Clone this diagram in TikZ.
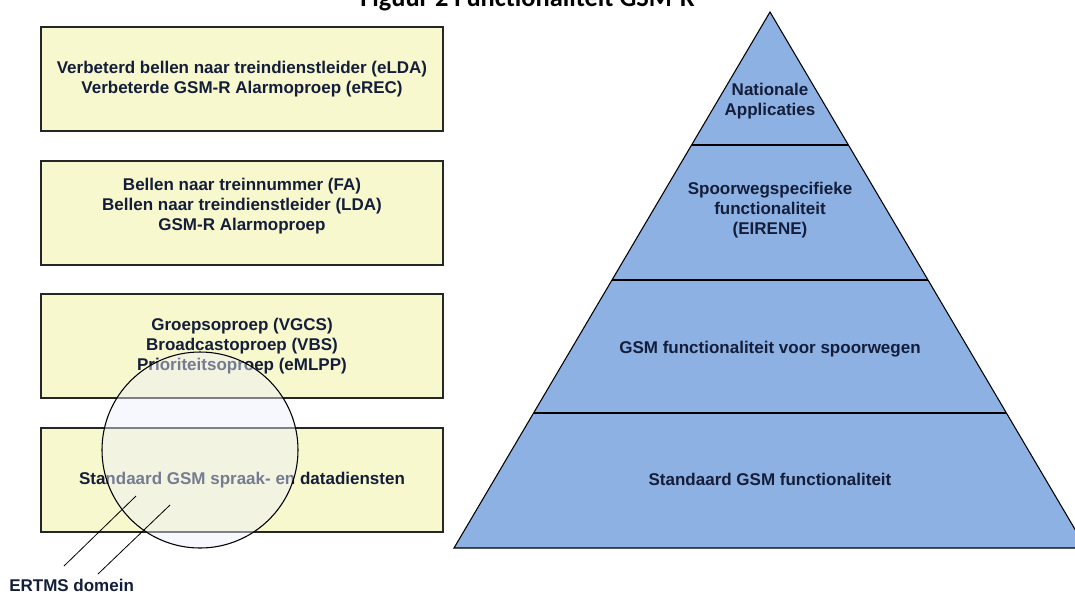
\documentclass[tikz,border=0pt]{standalone}
\usepackage{fontspec}
\setmainfont{Liberation Sans}
\newfontfamily\titlefont{Carlito}
\usetikzlibrary{calc}
\definecolor{txt}{RGB}{20,30,58}
\definecolor{boxfill}{RGB}{248,248,206}
\definecolor{pyr}{RGB}{142,177,227}
\definecolor{circ}{RGB}{236,239,250}
\begin{document}
\begin{tikzpicture}[x=0.75pt,y=-0.75pt,
  lbox/.style={draw=black!85, line width=0.8pt, fill=boxfill, minimum width=301.5pt, minimum height=78pt, inner sep=0pt},
  btxt/.style={align=center, inner sep=0pt, text=txt, font=\bfseries\fontsize{12.75}{15}\selectfont},
  edge/.style={draw=black, line width=0.8pt},
  leader/.style={draw=black, line width=0.6pt}]
\useasboundingbox (0,0) rectangle (1075,594);
\begin{scope}
\clip (0,0) rectangle (1075,594);
% title
\node[anchor=base west, inner sep=0pt, text=black, font=\titlefont\bfseries\fontsize{19.8}{22}\selectfont] (title) at (360,6) {Figuur 2 Functionaliteit GSM-R};

% left boxes
\node[lbox] (b1) at (242,79) {};
\node[lbox] (b2) at (242,213) {};
\node[lbox] (b3) at (242,346) {};
\node[lbox] (b4) at (242,480) {};
\node[btxt] (t1) at (242,79) {Verbeterd bellen naar treindienstleider (eLDA)\\Verbeterde GSM-R Alarmoproep (eREC)};
\node[btxt] (t2) at (242,206) {Bellen naar treinnummer (FA)\\Bellen naar treindienstleider (LDA)\\GSM-R Alarmoproep};
\node[btxt] (t3) at (242,346) {Groepsoproep (VGCS)\\Broadcastoproep (VBS)\\Prioriteitsoproep (eMLPP)};
\node[btxt] (t4) at (242,480) {Standaard GSM spraak- en datadiensten};

% ERTMS circle
\node[circle, minimum size=147pt, inner sep=0pt, fill=circ, fill opacity=0.45, draw=black, line width=0.8pt] (erc) at (200,450) {};
\node[btxt, anchor=base west] (ertms) at (9,591) {ERTMS domein};
\coordinate (l1a) at (136,496);
\coordinate (l1b) at (64,566);
\coordinate (l2a) at (170,505);
\coordinate (l2b) at (98,574);
\draw[leader] (l1a) -- (l1b);
\draw[leader] (l2a) -- (l2b);

% pyramid
\coordinate (apex) at (770,12);
\coordinate (bl) at (454,548);
\coordinate (br) at (1086,548);
\fill[pyr] (apex) -- (bl) -- (br) -- cycle;
\coordinate (d1l) at ($(apex)!0.2481!(bl)$);
\coordinate (d1r) at ($(apex)!0.2481!(br)$);
\coordinate (d2l) at ($(apex)!0.5!(bl)$);
\coordinate (d2r) at ($(apex)!0.5!(br)$);
\coordinate (d3l) at ($(apex)!0.7481!(bl)$);
\coordinate (d3r) at ($(apex)!0.7481!(br)$);
\draw[edge] (d1l) -- (d1r);
\draw[edge] (d2l) -- (d2r);
\draw[edge] (d3l) -- (d3r);
\draw[edge, line join=miter] (bl) -- (apex) -- (br) -- cycle;

\node[btxt] (p1) at (770,101) {Nationale\\Applicaties};
\node[btxt] (p2) at (770,210) {Spoorwegspecifieke\\functionaliteit\\(EIRENE)};
\node[btxt] (p3) at (770,349) {GSM functionaliteit voor spoorwegen};
\node[btxt] (p4) at (770,479) {Standaard GSM functionaliteit};
\end{scope}
\end{tikzpicture}
\end{document}
